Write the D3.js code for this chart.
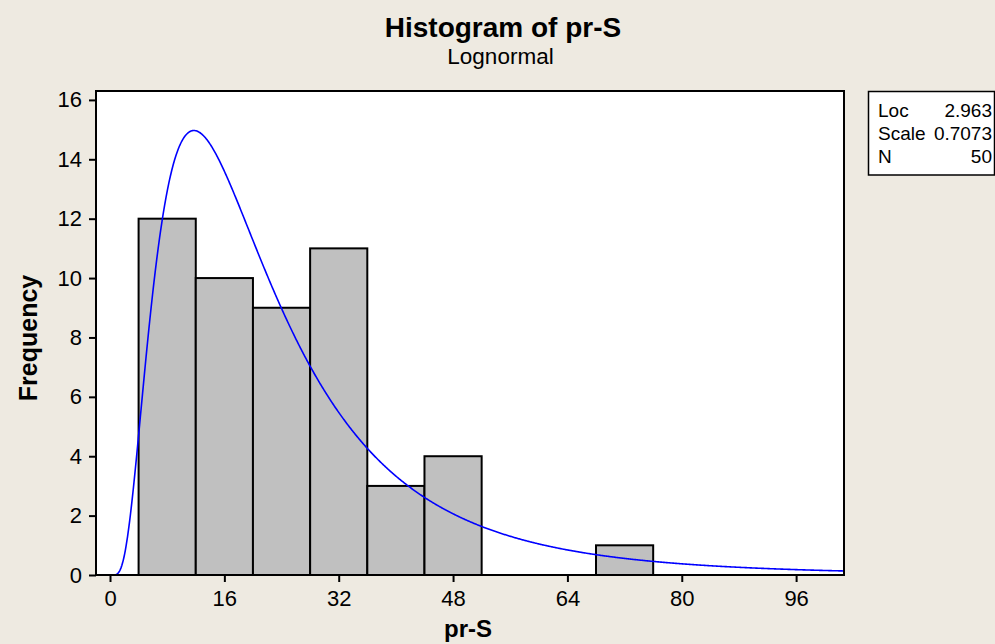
<!DOCTYPE html>
<html><head><meta charset="utf-8">
<script src="https://cdn.jsdelivr.net/npm/d3@7"></script>
<style>
html,body{margin:0;padding:0;background:#EEEAE1;}
svg{display:block;}
text{font-family:"Liberation Sans",Arial,sans-serif;fill:#000;}
</style></head>
<body>
<svg id="chart" width="995" height="644"></svg>
<script>
// Data
const binStarts = [4, 12, 20, 28, 36, 44, 68];
const binWidth = 8;
const frequencies = [12, 10, 9, 11, 3, 4, 1];
const xTicks = [0, 16, 32, 48, 64, 80, 96];
const yTicks = [0, 2, 4, 6, 8, 10, 12, 14, 16];
const statLabels = ["Loc", "Scale", "N"];
const statValues = ["2.963", "0.7073", "50"];
const loc = 2.963, scale = 0.7073, n = 50;

(function(){
const svg = d3.select("#chart");
const W = 995, H = 644;
const FONT = "Liberation Sans, Arial, sans-serif";
svg.append("rect").attr("width", W).attr("height", H).attr("fill", "#EEEAE1");

const pL = 96, pR = 844, pT = 91, pB = 575;
const x = d3.scaleLinear().domain([-1.96, 102.7]).range([pL, pR]);
const y = d3.scaleLinear().domain([0, 16.3]).range([pB, pT]);

svg.append("rect").attr("x", pL).attr("y", pT).attr("width", pR - pL).attr("height", pB - pT)
  .attr("fill", "#fff");

svg.append("g").selectAll("rect").data(binStarts).join("rect")
  .attr("x", d => x(d)).attr("y", (d, i) => y(frequencies[i]))
  .attr("width", d => x(d + binWidth) - x(d))
  .attr("height", (d, i) => y(0) - y(frequencies[i]))
  .attr("fill", "#C0C0C0").attr("stroke", "#000").attr("stroke-width", 2);

function lnpdf(v) {
  if (v <= 0) return 0;
  const z = (Math.log(v) - loc) / scale;
  return Math.exp(-0.5 * z * z) / (v * scale * Math.sqrt(2 * Math.PI));
}
const xs = d3.range(0.05, 102.7, 0.1);
const line = d3.line().x(d => x(d)).y(d => y(lnpdf(d) * n * binWidth));
svg.append("path").datum(xs).attr("d", line).attr("fill", "none")
  .attr("stroke", "#0000FF").attr("stroke-width", 1.6);

svg.append("rect").attr("x", pL).attr("y", pT).attr("width", pR - pL).attr("height", pB - pT)
  .attr("fill", "none").attr("stroke", "#000").attr("stroke-width", 2);

const xAxis = svg.append("g").attr("transform", `translate(0,${pB})`)
  .call(d3.axisBottom(x).tickValues(xTicks).tickSize(7).tickPadding(8).tickSizeOuter(0));
const yAxis = svg.append("g").attr("transform", `translate(${pL},0)`)
  .call(d3.axisLeft(y).tickValues(yTicks).tickSize(7).tickPadding(7).tickSizeOuter(0));
[xAxis, yAxis].forEach(g => {
  g.select(".domain").remove();
  g.selectAll("line").attr("stroke", "#000").attr("stroke-width", 2);
  g.selectAll("text").attr("font-size", 22).attr("font-family", FONT).attr("fill", "#000");
});

svg.append("text").attr("x", 503).attr("y", 37).attr("text-anchor", "middle")
  .attr("font-size", 28).attr("font-weight", "bold").text("Histogram of pr-S");
svg.append("text").attr("x", 500.5).attr("y", 64).attr("text-anchor", "middle")
  .attr("font-size", 22.5).text("Lognormal");
svg.append("text").attr("x", 468).attr("y", 637).attr("text-anchor", "middle")
  .attr("font-size", 24).attr("font-weight", "bold").text("pr-S");
svg.append("text").attr("transform", "translate(37,338) rotate(-90)").attr("text-anchor", "middle")
  .attr("font-size", 25).attr("font-weight", "bold").text("Frequency");

svg.append("rect").attr("x", 868.5).attr("y", 91.5).attr("width", 126).attr("height", 83.5)
  .attr("fill", "#fff").attr("stroke", "#000").attr("stroke-width", 1.5);
statLabels.forEach((s, i) => {
  svg.append("text").attr("x", 878).attr("y", 116.5 + i * 23.3).attr("font-size", 19).text(s);
  svg.append("text").attr("x", 992).attr("y", 116.5 + i * 23.3).attr("font-size", 19)
    .attr("text-anchor", "end").text(statValues[i]);
});
})();
</script>
</body></html>
